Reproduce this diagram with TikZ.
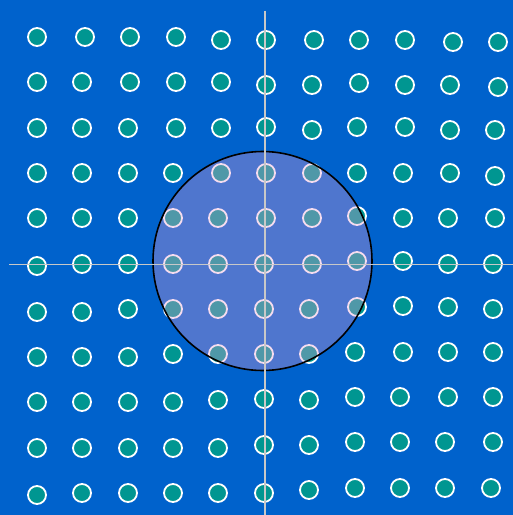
\documentclass[tikz,border=0pt]{standalone}
\definecolor{bgblue}{RGB}{0,98,204}
\definecolor{dotteal}{RGB}{0,150,145}
\definecolor{overlay}{RGB}{227,157,211}
\definecolor{axisgray}{RGB}{200,200,200}
\tikzset{
  dot/.style={fill=dotteal,draw=white,line width=1.8pt},
  bigdisc/.style={fill=overlay,fill opacity=0.35,draw=black,draw opacity=1,line width=1.6pt},
  axisline/.style={draw=axisgray,line width=1.6pt}
}
\begin{document}
\begin{tikzpicture}[x=1pt,y=-1pt]
\fill[bgblue] (0,0) rectangle (513,515);
\useasboundingbox (0,0) rectangle (513,515);
\foreach \p in {
(37,37),(85,37),(130,37),(176,37),(221,40),(266,40),(314,40),(359,40),(405,40),(453,42),(498,42),
(37,82),(82,82),(130,82),(176,82),(221,82),(266,85),(312,85),(359,83),(405,85),(450,85),(498,87),
(37,128),(82,128),(128,128),(176,128),(221,128),(266,127),(312,130),(357,127),(405,127),(450,130),(495,130),
(37,173),(82,173),(128,173),(173,173),(221,173),(266,173),(312,173),(357,173),(403,173),(450,173),(495,176),
(37,218),(82,218),(128,218),(173,218),(218,218),(266,218),(312,218),(357,216),(403,218),(448,218),(495,218),
(37,266),(82,264),(128,264),(173,264),(218,264),(264,264),(312,264),(357,261),(403,261),(448,264),(493,264),
(37,312),(82,312),(128,309),(173,309),(218,309),(264,309),(309,309),(357,307),(403,306),(448,307),(493,309),
(37,357),(82,357),(128,357),(173,354),(218,354),(264,354),(309,354),(355,352),(403,352),(448,352),(493,352),
(37,402),(82,402),(128,402),(173,402),(218,400),(264,399),(309,400),(355,397),(400,397),(448,397),(493,397),
(37,448),(82,448),(128,448),(173,448),(218,448),(264,445),(309,445),(355,442),(400,442),(445,442),(493,442),
(37,495),(82,493),(128,493),(173,493),(218,493),(264,493),(309,490),(355,488),(400,488),(445,488),(491,488)
}{
  \path[dot] \p circle (9pt);
}
\path[bigdisc] (262.5,261) circle (109.5pt);
\coordinate (vtop) at (264.7,10.5);
\coordinate (vbot) at (264.7,515);
\coordinate (hleft) at (9,264.3);
\coordinate (hright) at (513,264.3);
\draw[axisline] (vtop) -- (vbot);
\draw[axisline] (hleft) -- (hright);
\end{tikzpicture}
\end{document}
